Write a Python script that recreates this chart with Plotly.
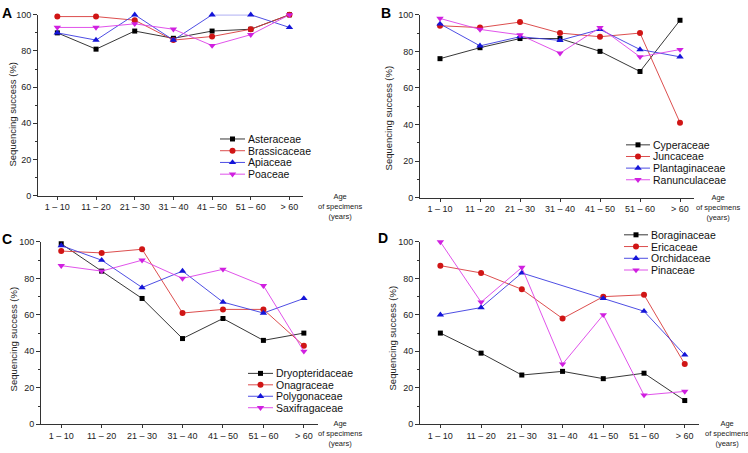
import plotly.graph_objects as go

# ---------------- data ----------------
age_labels = ["1 – 10", "11 – 20", "21 – 30", "31 – 40", "41 – 50", "51 – 60", "> 60"]
y_ticks = [0, 20, 40, 60, 80, 100]

a_names = ["Asteraceae", "Brassicaceae", "Apiaceae", "Poaceae"]
a_asteraceae = [90, 81, 91, 87, 91, 92, 100]
a_brassicaceae = [99, 99, 97, 86, 88, 92, 100]
a_apiaceae = [90, 86, 100, 86, 100, 100, 93]
a_poaceae = [93, 93, 95, 92, 83, 89, 100]

b_names = ["Cyperaceae", "Juncaceae", "Plantaginaceae", "Ranunculaceae"]
b_cyperaceae = [76, 82, 87, 87, 80, 69, 97]
b_juncaceae = [94, 93, 96, 90, 88, 90, 41]
b_plantaginaceae = [95, 83, 88, 86, 92, 81, 77]
b_ranunculaceae = [98, 92, 89, 79, 93, 77, 81]

c_names = ["Dryopteridaceae", "Onagraceae", "Polygonaceae", "Saxifragaceae"]
c_dryopteridaceae = [99, 84, 69, 47, 58, 46, 50]
c_onagraceae = [95, 94, 96, 61, 63, 63, 43]
c_polygonaceae = [98, 90, 75, 84, 67, 61, 69]
c_saxifragaceae = [87, 84, 90, 80, 85, 76, 40]

d_names = ["Boraginaceae", "Ericaceae", "Orchidaceae", "Pinaceae"]
d_boraginaceae = [50, 39, 27, 29, 25, 28, 13]
d_ericaceae = [87, 83, 74, 58, 70, 71, 33]
d_orchidaceae = [60, 64, 83, None, 69, 62, 38]
d_pinaceae = [100, 67, 86, 33, 60, 16, 18]

panel_letters = ["A", "B", "C", "D"]
panel_series = [
    (a_names, [a_asteraceae, a_brassicaceae, a_apiaceae, a_poaceae]),
    (b_names, [b_cyperaceae, b_juncaceae, b_plantaginaceae, b_ranunculaceae]),
    (c_names, [c_dryopteridaceae, c_onagraceae, c_polygonaceae, c_saxifragaceae]),
    (d_names, [d_boraginaceae, d_ericaceae, d_orchidaceae, d_pinaceae]),
]

# ---------------- styles / layout ----------------
W, H = 748, 453
symbols = ["square", "circle", "triangle-up", "triangle-down"]
msizes = [5, 6, 6.5, 6.5]
mcolors = ["#000000", "#d01515", "#1515d8", "#d020e0"]
lcolors = ["#202020", "#d83a3a", "#3a3ae0", "#dd40e8"]
FONT = "Liberation Sans, Arial, sans-serif"

def px_x(x):
    return x / W

def px_y(y):
    return 1 - y / H

# panel geometry in pixels: x_left, x_right, y_top(100), y_bottom(0)
geo = [
    (38, 303, 10, 195),
    (420, 694, 10, 197),
    (41, 318, 242.3, 428.7),
    (420, 699, 242.3, 428.7),
]
# legend geometry: line x0, line x1, row0 y, row spacing
leg = [
    (220, 245, 137, 12),
    (626, 650, 143, 11.9),
    (248, 273, 376.7, 11.7),
    (624, 648, 235, 12),
]
ytitle_pos = [(13, 112), (388, 116), (13, 342), (392, 341)]
letter_pos = [(7, 8), (386, 8), (7, 239), (383, 238)]
age_pos = [(340, 206), (718, 207), (340, 438), (727, 438)]

fig = go.Figure()
layout = dict(
    width=W, height=H, margin=dict(l=0, r=0, t=0, b=0),
    paper_bgcolor="white", plot_bgcolor="white", showlegend=False,
    font=dict(family=FONT, color="#222222"),
)
annotations = []
xr = [-0.5, 6.35]

for p in range(4):
    names, series = panel_series[p]
    xa = "x" if p == 0 else f"x{p+1}"
    ya = "y" if p == 0 else f"y{p+1}"
    for i, (nm, vals) in enumerate(zip(names, series)):
        fig.add_trace(go.Scatter(
            x=list(range(len(age_labels))), y=vals, name=nm, mode="lines+markers",
            connectgaps=True, cliponaxis=False,
            line=dict(color=lcolors[i], width=0.9),
            marker=dict(symbol=symbols[i], size=msizes[i], color=mcolors[i],
                        line=dict(width=0)),
            xaxis=xa, yaxis=ya,
        ))
    x0, x1, yt, yb = geo[p]
    layout[f"xaxis{'' if p == 0 else p+1}"] = dict(
        domain=[px_x(x0), px_x(x1)], range=xr, anchor=ya,
        tickmode="array", tickvals=list(range(len(age_labels))), ticktext=age_labels,
        ticks="outside", ticklen=3, tickwidth=1, tickcolor="#333",
        showline=True, linecolor="#333", linewidth=1, showgrid=False, zeroline=False,
        tickfont=dict(size=9, family=FONT, color="#222"),
    )
    layout[f"yaxis{'' if p == 0 else p+1}"] = dict(
        domain=[px_y(yb), px_y(yt)], range=[0, 100], anchor=xa,
        tickmode="array", tickvals=y_ticks,
        ticks="outside", ticklen=4, tickwidth=1, tickcolor="#333",
        minor=dict(dtick=10, ticklen=2, ticks="outside", tickcolor="#333", tickwidth=1),
        showline=True, linecolor="#333", linewidth=1, showgrid=False, zeroline=False,
        tickfont=dict(size=9, family=FONT, color="#222"),
    )
    # custom compact legend drawn on its own hidden axes
    lx0, lx1, ly0, lgap = leg[p]
    lxa = f"x{p+5}"
    lya = f"y{p+5}"
    for i, nm in enumerate(names):
        fig.add_trace(go.Scatter(
            x=[0, 1], y=[i, i], mode="lines", hoverinfo="skip",
            line=dict(color=lcolors[i], width=0.9), xaxis=lxa, yaxis=lya, cliponaxis=False,
        ))
        fig.add_trace(go.Scatter(
            x=[0.5], y=[i], mode="markers", hoverinfo="skip",
            marker=dict(symbol=symbols[i], size=msizes[i], color=mcolors[i], line=dict(width=0)),
            xaxis=lxa, yaxis=lya, cliponaxis=False,
        ))
        annotations.append(dict(
            x=1, y=i, xref=lxa, yref=lya, text=nm, showarrow=False,
            xanchor="left", yanchor="middle", xshift=1,
            font=dict(size=10.5, family=FONT, color="#111"),
        ))
    n = len(names)
    top = ly0 - lgap / 2
    bot = ly0 + lgap * (n - 1) + lgap / 2
    layout[f"xaxis{p+5}"] = dict(domain=[px_x(lx0), px_x(lx1)], range=[0, 1],
                                 visible=False, anchor=lya)
    layout[f"yaxis{p+5}"] = dict(domain=[px_y(bot), px_y(top)], range=[n - 0.5, -0.5],
                                 visible=False, anchor=lxa)

    tx, ty = ytitle_pos[p]
    annotations.append(dict(
        x=px_x(tx), y=px_y(ty), xref="paper", yref="paper", text="Sequencing success (%)",
        textangle=-90, showarrow=False, xanchor="center", yanchor="middle",
        font=dict(size=9.5, family=FONT, color="#222"),
    ))
    lx, lyy = letter_pos[p]
    annotations.append(dict(
        x=px_x(lx), y=px_y(lyy), xref="paper", yref="paper", text=f"<b>{panel_letters[p]}</b>",
        showarrow=False, xanchor="center", yanchor="middle",
        font=dict(size=14, family=FONT, color="#000"),
    ))
    axx, axy = age_pos[p]
    annotations.append(dict(
        x=px_x(axx), y=px_y(axy), xref="paper", yref="paper",
        text="Age<br>of specimens<br>(years)", showarrow=False,
        xanchor="center", yanchor="middle", align="center",
        font=dict(size=7.5, family=FONT, color="#222"),
    ))

layout["annotations"] = annotations
fig.update_layout(**layout)
fig.write_html("out.html", config={"displayModeBar": False},
               post_script="document.body.style.margin='0';document.body.style.overflow='hidden';")
